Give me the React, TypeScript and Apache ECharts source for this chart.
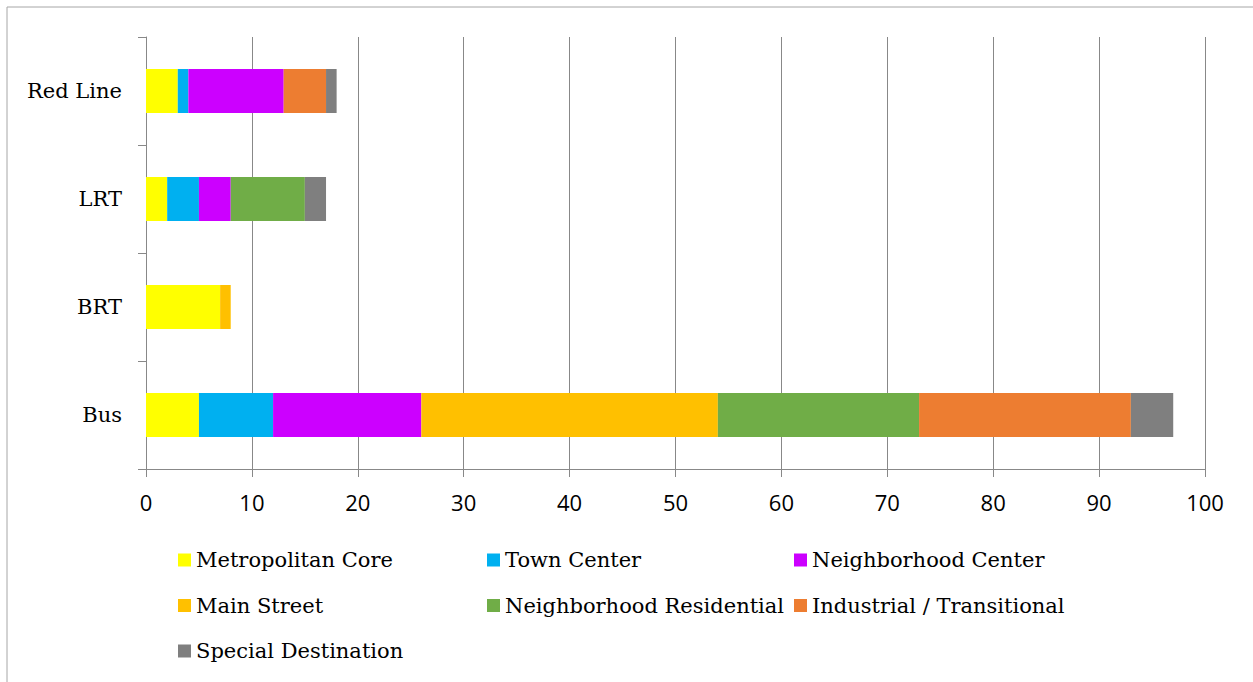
import React, { useEffect, useRef } from "react";
import * as echarts from "echarts";

const categories = ["Bus", "BRT", "LRT", "Red Line"];
const seriesNames = [
  "Metropolitan Core",
  "Town Center",
  "Neighborhood Center",
  "Main Street",
  "Neighborhood Residential",
  "Industrial / Transitional",
  "Special Destination",
];
const metropolitanCore = [5, 7, 2, 3];
const townCenter = [7, 0, 3, 1];
const neighborhoodCenter = [14, 0, 3, 9];
const mainStreet = [28, 1, 0, 0];
const neighborhoodResidential = [19, 0, 7, 0];
const industrialTransitional = [20, 0, 0, 4];
const specialDestination = [4, 0, 2, 1];
const xTicks = [0, 10, 20, 30, 40, 50, 60, 70, 80, 90, 100];

const seriesValues = [
  metropolitanCore,
  townCenter,
  neighborhoodCenter,
  mainStreet,
  neighborhoodResidential,
  industrialTransitional,
  specialDestination,
];
const colors = ["#FFFF00", "#00B0F0", "#CC00FF", "#FFC000", "#70AD47", "#ED7D31", "#7F7F7F"];

const SERIF = "'DejaVu Serif', 'Liberation Serif', serif";
const SANS = "'Open Sans', 'Liberation Sans', sans-serif";

export default function App() {
  const ref = useRef<HTMLDivElement>(null);
  useEffect(() => {
    if (!ref.current) return;
    const chart = echarts.init(ref.current, null, { renderer: "svg" });
    const legendText = { fontFamily: SERIF, fontSize: 21, color: "#000", lineHeight: 24 };
    const mkLegend = (left: number, data: string[]) => ({
      orient: "vertical" as const,
      left,
      top: 548,
      itemWidth: 13,
      itemHeight: 13,
      itemGap: 21.5,
      itemTextGap: 6,
      icon: "rect",
      padding: 0,
      textStyle: legendText,
      data,
    });
    chart.setOption({
      animation: false,
      backgroundColor: "#fff",
      color: colors,
      grid: { left: 146, right: 48, top: 37, bottom: 213, containLabel: false },
      legend: [
        mkLegend(178, [seriesNames[0], seriesNames[3], seriesNames[6]]),
        mkLegend(487, [seriesNames[1], seriesNames[4]]),
        mkLegend(794, [seriesNames[2], seriesNames[5]]),
      ],
      xAxis: {
        type: "value",
        min: xTicks[0],
        max: xTicks[xTicks.length - 1],
        interval: 10,
        axisLine: { show: true, lineStyle: { color: "#888", width: 1 } },
        axisTick: { show: true, length: 8, lineStyle: { color: "#888" } },
        splitLine: { show: true, lineStyle: { color: "#888", width: 1 } },
        axisLabel: { fontFamily: SANS, fontSize: 22, color: "#000", margin: 22 },
      },
      yAxis: {
        type: "category",
        data: categories,
        axisLine: { show: true, lineStyle: { color: "#888", width: 1 } },
        axisTick: { show: true, length: 8, lineStyle: { color: "#888" } },
        splitLine: { show: false },
        axisLabel: { fontFamily: SERIF, fontSize: 21, color: "#000", margin: 24 },
      },
      series: seriesNames.map((name, i) => ({
        name,
        type: "bar",
        stack: "total",
        barWidth: 44,
        data: seriesValues[i],
        itemStyle: { color: colors[i] },
      })),
      graphic: [
        {
          type: "rect",
          shape: { x: 7, y: 7, width: 1300, height: 700 },
          style: { fill: "none", stroke: "#a6a6a6", lineWidth: 1 },
          silent: true,
        },
      ],
    });
    return () => chart.dispose();
  }, []);
  return (
    <div
      ref={ref}
      style={{ position: "fixed", left: 0, top: 0, width: 1253, height: 682 }}
    />
  );
}
